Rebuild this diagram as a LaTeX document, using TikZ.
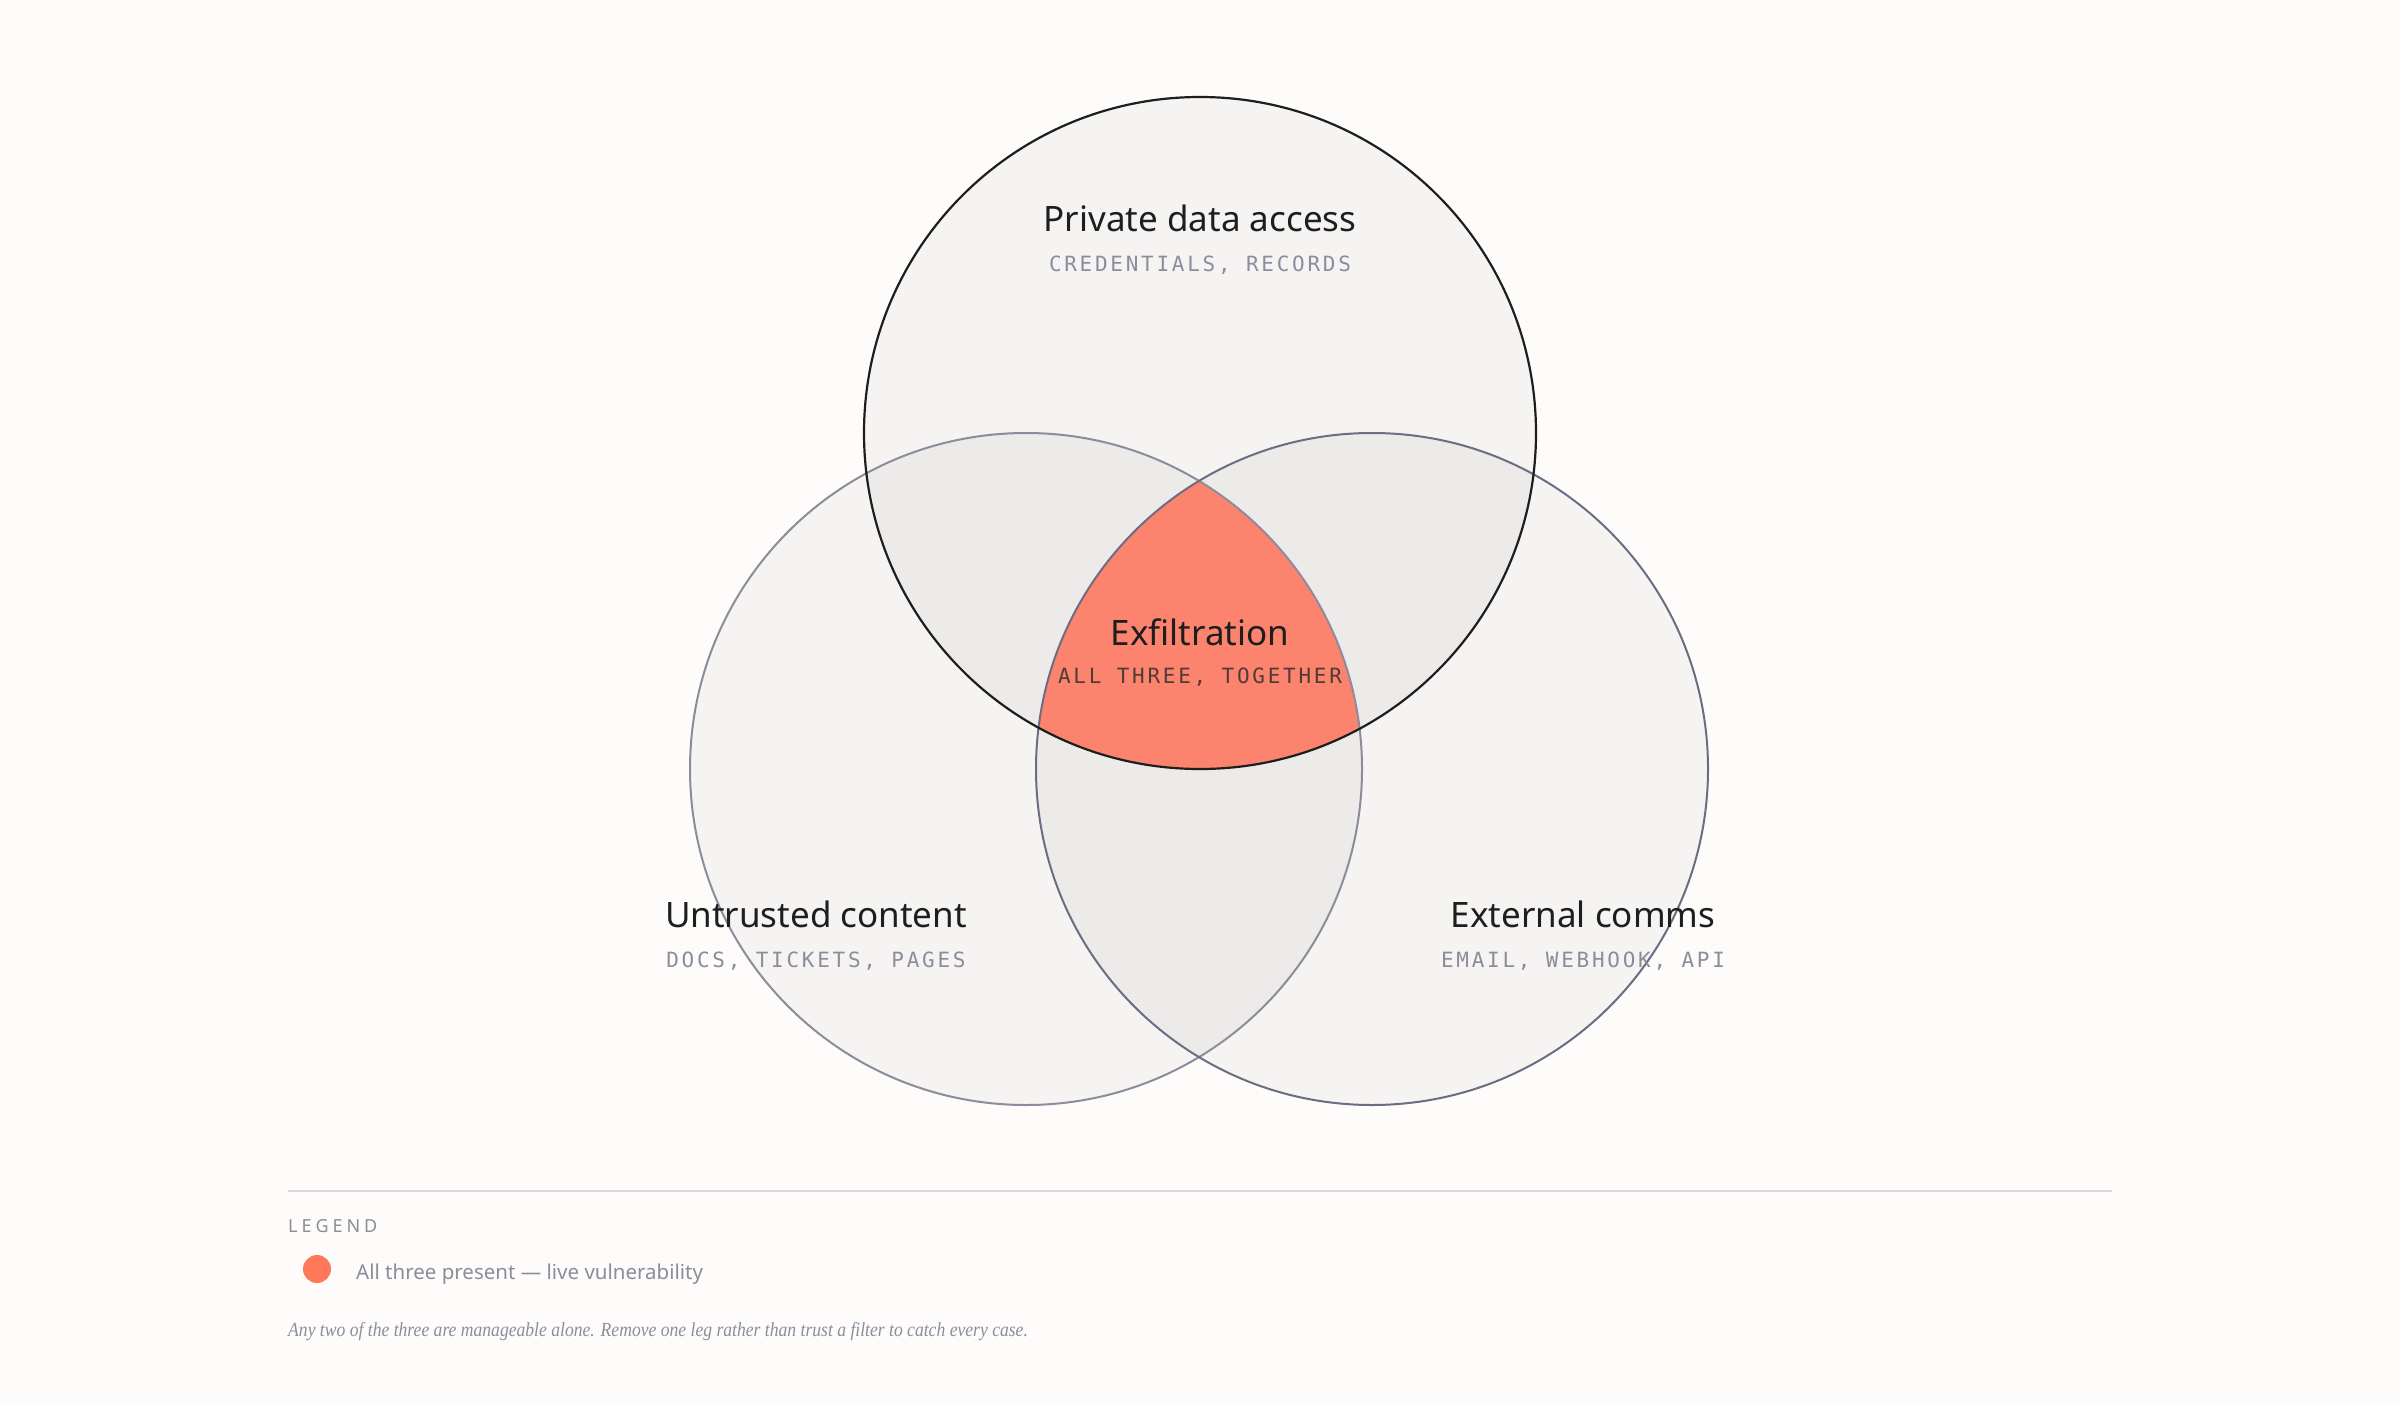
\documentclass[tikz,border=0pt]{standalone}
\usepackage{fontspec}
\setmainfont{Noto Sans}
\newfontfamily\monofam[LetterSpace=13]{DejaVu Sans Mono}
\newfontfamily\capsfam[LetterSpace=22]{Noto Sans}
\newfontface\noteface[FakeStretch=0.88]{Liberation Serif Italic}

\definecolor{paper}{HTML}{FDFCFB}
\definecolor{disc}{HTML}{F5F4F3}
\definecolor{lens}{HTML}{ECEBEA}
\definecolor{hot}{HTML}{FC836D}
\definecolor{dot}{HTML}{FF785A}
\definecolor{ink}{HTML}{1E1E1E}
\definecolor{muted}{HTML}{8E8C9B}
\definecolor{hotink}{HTML}{4F3C37}
\definecolor{rimL}{HTML}{8E8C9B}
\definecolor{rimR}{HTML}{6E6C82}
\definecolor{rule}{HTML}{DAD9DE}

\begin{document}
\begin{tikzpicture}[x=1pt,y=-1pt,
	title/.style={anchor=base,inner sep=0pt,text=ink,font=\fontsize{35}{41}\selectfont},
	tag/.style={anchor=base,inner sep=0pt,text=muted,font=\monofam\fontsize{21}{25}\selectfont}]
	\fill[paper] (0,0) rectangle (2400,1404);
	% the three sets
	\coordinate (priv) at (1200,433);
	\coordinate (untr) at (1026,769);
	\coordinate (ext) at (1372,769);
	\fill[disc] (priv) circle[radius=336pt] (untr) circle[radius=336pt] (ext) circle[radius=336pt];
	\begin{scope}
		\clip (priv) circle[radius=336pt];
		\fill[lens] (untr) circle[radius=336pt] (ext) circle[radius=336pt];
	\end{scope}
	\begin{scope}
		\clip (untr) circle[radius=336pt];
		\fill[lens] (ext) circle[radius=336pt];
	\end{scope}
	\begin{scope}
		\clip (priv) circle[radius=336pt];
		\clip (untr) circle[radius=336pt];
		\fill[hot] (ext) circle[radius=336pt];
	\end{scope}
	\draw[rimL,line width=2pt] (untr) circle[radius=336pt];
	\draw[rimR,line width=2pt] (ext) circle[radius=336pt];
	\draw[ink,line width=2.2pt] (priv) circle[radius=336pt];
	% labels
	\node[title] (privT) at (1200,232) {Private data access};
	\node[tag] (privS) at (1200,272) {CREDENTIALS, RECORDS};
	\node[title] (exfT) at (1200,645) {Exfiltration};
	\node[tag,text=hotink] (exfS) at (1200,683) {ALL THREE, TOGETHER};
	\node[title] (untrT) at (816,927) {Untrusted content};
	\node[tag] (untrS) at (816,967) {DOCS, TICKETS, PAGES};
	\node[title] (extT) at (1583,927) {External comms};
	\node[tag] (extS) at (1583,967) {EMAIL, WEBHOOK, API};
	% legend
	\draw[rule,line width=2pt] (288,1191) -- (2112,1191);
	\node[anchor=base west,inner sep=0pt,text=muted,font=\capsfam\fontsize{18}{22}\selectfont] (legT) at (288,1232) {LEGEND};
	\fill[dot] (317,1269) circle[radius=14pt];
	\node[anchor=base west,inner sep=0pt,text=muted,font=\fontsize{20.5}{25}\selectfont] (legA) at (356,1279) {All three present — live vulnerability};
	\node[anchor=base west,inner sep=0pt,text=muted,font=\noteface\fontsize{20}{24}\selectfont] (note) at (288,1336) {Any two of the three are manageable alone. Remove one leg rather than trust a filter to catch every case.};
\end{tikzpicture}
\end{document}
